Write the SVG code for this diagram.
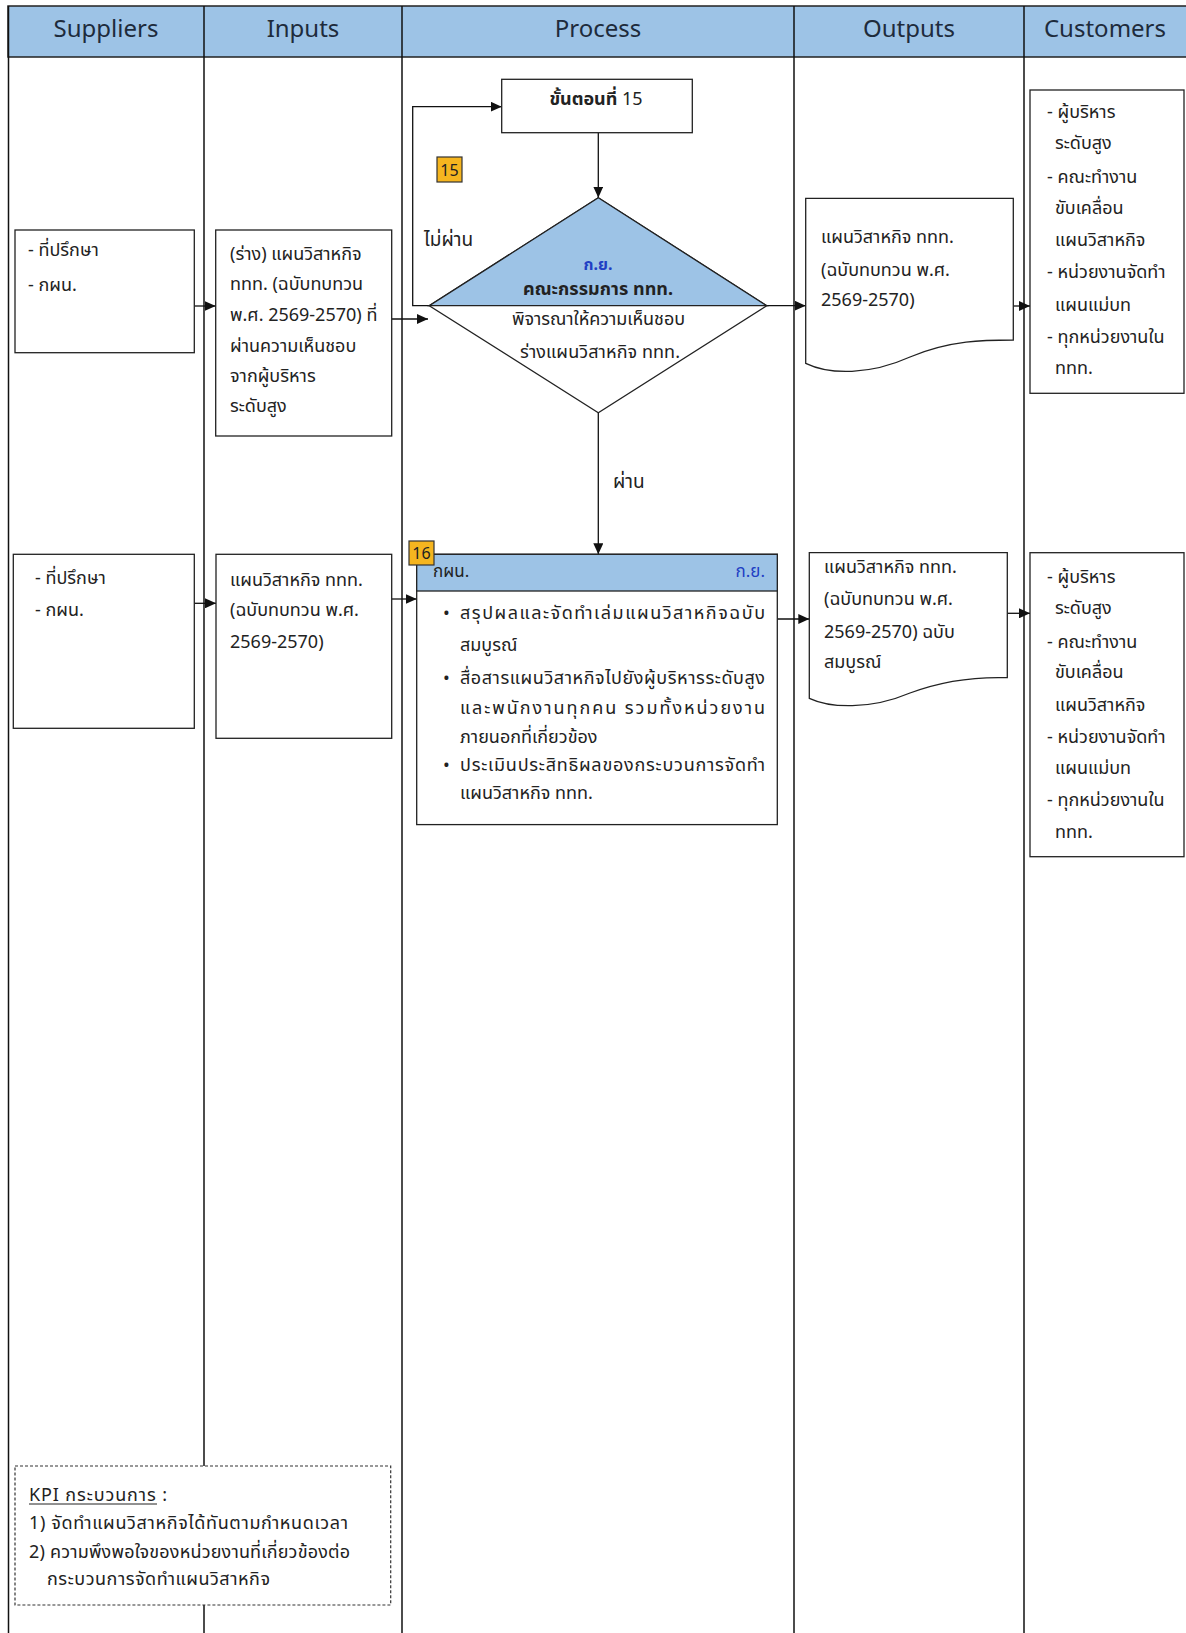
<svg xmlns="http://www.w3.org/2000/svg" width="1186" height="1633" viewBox="0 0 1186 1633">
<style>
.hdr{fill:#9DC3E6;stroke:#222;stroke-width:1.5}
.htxt{font-family:"Noto Sans",sans-serif;font-size:24px;fill:#1e2b3c;text-anchor:middle}
.col{stroke:#111;stroke-width:1.5;fill:none}
.box{fill:#fff;stroke:#222;stroke-width:1.3}
.t{font-family:"Noto Sans","Noto Sans Thai",Tahoma,sans-serif;font-size:18px;fill:#222}
.blue{fill:#1f3fc4}
.conn{stroke:#111;stroke-width:1.3;fill:none}
.badge{fill:#F5B51F;stroke:#333;stroke-width:1.2}
.btxt{font-family:"Noto Sans",sans-serif;font-size:16px;fill:#222}
</style>
<defs>
<marker id="ah" markerUnits="userSpaceOnUse" markerWidth="12" markerHeight="10" refX="11" refY="5" orient="auto">
<path d="M0,0 L11,5 L0,10 z" fill="#111"/>
</marker>
</defs>
<g id="lanes">
<rect class="hdr" x="8" y="6" width="1182" height="51"/>
<line class="col" x1="8.5" y1="6" x2="8.5" y2="1633"/>
<line class="col" x1="204" y1="6" x2="204" y2="1633"/>
<line class="col" x1="402" y1="6" x2="402" y2="1633"/>
<line class="col" x1="794" y1="6" x2="794" y2="1633"/>
<line class="col" x1="1024" y1="6" x2="1024" y2="1633"/>
<text class="htxt" x="106" y="37">Suppliers</text>
<text class="htxt" x="303" y="37">Inputs</text>
<text class="htxt" x="598" y="37">Process</text>
<text class="htxt" x="909" y="37">Outputs</text>
<text class="htxt" x="1105" y="37">Customers</text>
</g>
<g id="connectors">
<path class="conn" d="M194.3,306 H215.7" marker-end="url(#ah)"/>
<path class="conn" d="M391.7,319 H428" marker-end="url(#ah)"/>
<path class="conn" d="M598.3,132.7 V197.7" marker-end="url(#ah)"/>
<path class="conn" d="M429.3,305.7 H412.7 V106.7 H501.7" marker-end="url(#ah)"/>
<path class="conn" d="M766.7,305.7 H805.7" marker-end="url(#ah)"/>
<path class="conn" d="M1013.3,306 H1030" marker-end="url(#ah)"/>
<path class="conn" d="M598.3,412.7 V554.3" marker-end="url(#ah)"/>
<path class="conn" d="M194.3,603.3 H216" marker-end="url(#ah)"/>
<path class="conn" d="M391.7,599 H416.7" marker-end="url(#ah)"/>
<path class="conn" d="M777.3,619 H809.3" marker-end="url(#ah)"/>
<path class="conn" d="M1007.3,613.3 H1030" marker-end="url(#ah)"/>
<text class="t" x="424" y="246" style="font-size:19px">ไม่ผ่าน</text>
<text class="t" x="613" y="488" style="font-size:19px">ผ่าน</text>
</g>
<g id="sup1">
<rect class="box" x="15" y="230" width="179.3" height="122.7"/>
<text class="t" x="28" y="256">- ที่ปรึกษา</text>
<text class="t" x="28" y="291">- กผน.</text>
</g>
<g id="in1">
<rect class="box" x="215.7" y="230" width="176" height="206"/>
<text class="t" x="230" y="260">(ร่าง) แผนวิสาหกิจ</text>
<text class="t" x="230" y="290">ททท. (ฉบับทบทวน</text>
<text class="t" x="230" y="321">พ.ศ. 2569-2570) ที่</text>
<text class="t" x="230" y="352">ผ่านความเห็นชอบ</text>
<text class="t" x="230" y="382">จากผู้บริหาร</text>
<text class="t" x="230" y="412">ระดับสูง</text>
</g>
<g id="step15">
<rect class="box" x="501.7" y="79.3" width="190.6" height="53.4"/>
<text class="t" x="596" y="105" text-anchor="middle"><tspan font-weight="bold">ขั้นตอนที่</tspan> 15</text>
</g>
<g id="badge15">
<rect class="badge" x="437" y="157" width="25" height="25"/>
<text class="btxt" x="449.5" y="176" text-anchor="middle">15</text>
</g>
<g id="decision">
<polygon points="598.3,197.7 766.7,305.7 598.3,412.7 429.3,305.7" fill="#fff" stroke="#222" stroke-width="1.3"/>
<polygon points="598.3,197.7 766.7,305.7 429.3,305.7" fill="#9DC3E6" stroke="#222" stroke-width="1.3"/>
<text class="t blue" x="598" y="270" text-anchor="middle" font-weight="bold" style="font-size:16px">ก.ย.</text>
<text class="t" x="523" y="295" font-weight="bold" textLength="150" lengthAdjust="spacing">คณะกรรมการ ททท.</text>
<text class="t" x="512" y="325" textLength="173" lengthAdjust="spacing">พิจารณาให้ความเห็นชอบ</text>
<text class="t" x="520" y="358" textLength="160" lengthAdjust="spacing">ร่างแผนวิสาหกิจ ททท.</text>
</g>
<g id="out1">
<path class="box" d="M805.7,198.3 H1013.3 V340 C985,340 950,340 910,357 C870,375 830,375 805.7,363.3 Z"/>
<text class="t" x="821" y="243">แผนวิสาหกิจ ททท.</text>
<text class="t" x="821" y="276">(ฉบับทบทวน พ.ศ.</text>
<text class="t" x="821" y="306">2569-2570)</text>
</g>
<g id="cus1">
<rect class="box" x="1030" y="90" width="154" height="303.3"/>
<text class="t" x="1047" y="118">- ผู้บริหาร</text>
<text class="t" x="1055" y="149">ระดับสูง</text>
<text class="t" x="1047" y="183">- คณะทำงาน</text>
<text class="t" x="1055" y="214">ขับเคลื่อน</text>
<text class="t" x="1055" y="246">แผนวิสาหกิจ</text>
<text class="t" x="1047" y="278">- หน่วยงานจัดทำ</text>
<text class="t" x="1055" y="311">แผนแม่บท</text>
<text class="t" x="1047" y="343">- ทุกหน่วยงานใน</text>
<text class="t" x="1055" y="374">ททท.</text>
</g>
<g id="sup2">
<rect class="box" x="13.3" y="554.3" width="181" height="174"/>
<text class="t" x="35" y="584">- ที่ปรึกษา</text>
<text class="t" x="35" y="616">- กผน.</text>
</g>
<g id="in2">
<rect class="box" x="216" y="554.3" width="175.7" height="184"/>
<text class="t" x="230" y="586">แผนวิสาหกิจ ททท.</text>
<text class="t" x="230" y="616">(ฉบับทบทวน พ.ศ.</text>
<text class="t" x="230" y="648">2569-2570)</text>
</g>
<g id="step16">
<rect class="box" x="416.7" y="554.3" width="360.6" height="270.3"/>
<rect x="416.7" y="554.3" width="360.6" height="36.7" fill="#9DC3E6" stroke="#222" stroke-width="1.3"/>
<text class="t" x="433" y="577" style="font-size:17px">กผน.</text>
<text class="t blue" x="765" y="577" text-anchor="end" style="font-size:17px">ก.ย.</text>
<g class="t">
<text x="443" y="619">•</text>
<text x="460" y="619" textLength="305" lengthAdjust="spacing">สรุปผลและจัดทำเล่มแผนวิสาหกิจฉบับ</text>
<text x="460" y="651">สมบูรณ์</text>
<text x="443" y="684">•</text>
<text x="460" y="684" textLength="305" lengthAdjust="spacing">สื่อสารแผนวิสาหกิจไปยังผู้บริหารระดับสูง</text>
<text x="460" y="714" textLength="305" lengthAdjust="spacing">และพนักงานทุกคน รวมทั้งหน่วยงาน</text>
<text x="460" y="743">ภายนอกที่เกี่ยวข้อง</text>
<text x="443" y="771">•</text>
<text x="460" y="771" textLength="305" lengthAdjust="spacing">ประเมินประสิทธิผลของกระบวนการจัดทำ</text>
<text x="460" y="799">แผนวิสาหกิจ ททท.</text>
</g>
</g>
<g id="badge16">
<rect class="badge" x="409" y="541" width="25" height="24"/>
<text class="btxt" x="421.5" y="559" text-anchor="middle">16</text>
</g>
<g id="out2">
<path class="box" d="M809.3,552.7 H1007.3 V677.7 C985,677 950,678 910,693 C870,710 830,708 809.3,698.3 Z"/>
<text class="t" x="824" y="573">แผนวิสาหกิจ ททท.</text>
<text class="t" x="824" y="605">(ฉบับทบทวน พ.ศ.</text>
<text class="t" x="824" y="638">2569-2570) ฉบับ</text>
<text class="t" x="824" y="668">สมบูรณ์</text>
</g>
<g id="cus2">
<rect class="box" x="1030" y="552.7" width="154" height="304"/>
<text class="t" x="1047" y="583">- ผู้บริหาร</text>
<text class="t" x="1055" y="614">ระดับสูง</text>
<text class="t" x="1047" y="648">- คณะทำงาน</text>
<text class="t" x="1055" y="678">ขับเคลื่อน</text>
<text class="t" x="1055" y="711">แผนวิสาหกิจ</text>
<text class="t" x="1047" y="743">- หน่วยงานจัดทำ</text>
<text class="t" x="1055" y="774">แผนแม่บท</text>
<text class="t" x="1047" y="806">- ทุกหน่วยงานใน</text>
<text class="t" x="1055" y="838">ททท.</text>
</g>
<g id="kpi">
<rect x="15" y="1466" width="375.7" height="139" fill="#fff" stroke="#333" stroke-width="1.2" stroke-dasharray="3,2"/>
<text class="t" x="29" y="1501" textLength="138" lengthAdjust="spacing">KPI กระบวนการ :</text>
<line x1="29" y1="1504" x2="157" y2="1504" stroke="#222" stroke-width="1"/>
<text class="t" x="29" y="1529" textLength="319" lengthAdjust="spacing">1) จัดทำแผนวิสาหกิจได้ทันตามกำหนดเวลา</text>
<text class="t" x="29" y="1558" textLength="321" lengthAdjust="spacing">2) ความพึงพอใจของหน่วยงานที่เกี่ยวข้องต่อ</text>
<text class="t" x="47" y="1585" textLength="223" lengthAdjust="spacing">กระบวนการจัดทำแผนวิสาหกิจ</text>
</g>
</svg>
